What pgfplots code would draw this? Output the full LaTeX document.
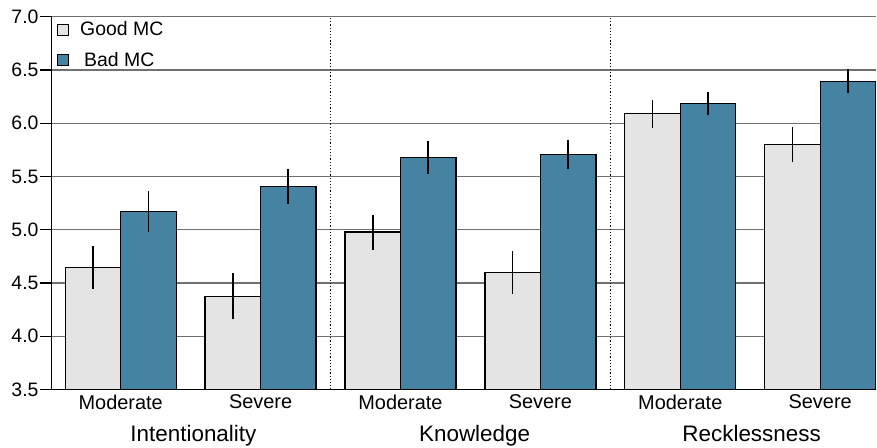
\documentclass[border=0pt]{standalone}
\usepackage{fontspec}
\setmainfont{Liberation Sans}
\usepackage{pgfplots}
\pgfplotsset{compat=1.18}
\definecolor{goodc}{HTML}{E4E4E4}
\definecolor{badc}{HTML}{4682A2}
\definecolor{gridc}{HTML}{707070}
\begin{document}
\begin{tikzpicture}
\begin{axis}[
  name=ax,
  scale only axis,
  width=824.3bp, height=372.8bp,
  xmin=-0.493, xmax=5.399,
  ymin=3.5, ymax=7.0,
  clip=false,
  ybar,
  axis x line*=bottom,
  axis y line*=left,
  axis line style={black, line width=1.3bp},
  /pgf/number format/assume math mode=true,
  ytick={3.5,4,4.5,5,5.5,6,6.5,7},
  yticklabel style={/pgf/number format/fixed, /pgf/number format/fixed zerofill, /pgf/number format/precision=1, font=\fontsize{19.5}{21}\selectfont, inner xsep=1bp},
  ymajorgrids,
  major grid style={gridc, line width=1.2bp},
  major tick length=12bp,
  tick align=outside,
  y tick style={black, line width=1.3bp},
  xtick={0,1,2,3,4,5},
  xticklabels={Moderate,Severe,Moderate,Severe,Moderate,Severe},
  x tick style={draw=none},
  xticklabel style={font=\fontsize{20}{21}\selectfont, yshift=10bp},
  extra x ticks={1.5,3.5},
  extra x tick labels={},
  extra x tick style={xmajorgrids, major grid style={black, dotted, line width=1bp}, tick style={draw=none}},
  legend style={at={(axis description cs:0,1)}, anchor=north west, draw=none, fill=none, font=\fontsize{19.5}{22}\selectfont, inner xsep=0pt, inner ysep=0pt, xshift=5bp, yshift=-3bp, row sep=11bp,
    /tikz/every odd column/.append style={column sep=9bp}},
  legend cell align=left,
  legend image code/.code={\draw[#1, draw=black, line width=1.3bp] (0bp,-5.5bp) rectangle (11bp,5.5bp);},
]
\addplot[fill=goodc, draw=black, line width=1.3bp, bar width=55.5bp, bar shift=-27.75bp,
  error bars/.cd, y dir=both, y explicit, error mark=none, error bar style={line width=1.7bp, black}]
  coordinates {
  (0,4.643) +- (0,0.200)
  (1,4.375) +- (0,0.217)
  (2,4.978) +- (0,0.164)
  (3,4.597) +- (0,0.200)
  (4,6.088) +- (0,0.134)
  (5,5.797) +- (0,0.164)
  };
\addlegendentry{Good MC}
\addplot[fill=badc, draw=black, line width=1.3bp, bar width=55.5bp, bar shift=27.75bp,
  error bars/.cd, y dir=both, y explicit, error mark=none, error bar style={line width=1.7bp, black}]
  coordinates {
  (0,5.169) +- (0,0.195)
  (1,5.406) +- (0,0.164)
  (2,5.675) +- (0,0.156)
  (3,5.709) +- (0,0.137)
  (4,6.185) +- (0,0.112)
  (5,6.393) +- (0,0.114)
  };
\addlegendentry{\hspace{4bp}Bad MC}
\node[anchor=base, font=\fontsize{22.5}{24}\selectfont] at ([yshift=-52.2bp]axis cs:0.52,3.5) {Intentionality};
\node[anchor=base, font=\fontsize{22.5}{24}\selectfont] at ([yshift=-52.2bp]axis cs:2.53,3.5) {Knowledge};
\node[anchor=base, font=\fontsize{22.5}{24}\selectfont] at ([yshift=-52.2bp]axis cs:4.51,3.5) {Recklessness};
\end{axis}
\pgfresetboundingbox
\path ([shift={(-51.7bp,-58.5bp)}]ax.south west) rectangle ([shift={(1bp,16.7bp)}]ax.north east);
\end{tikzpicture}
\end{document}
